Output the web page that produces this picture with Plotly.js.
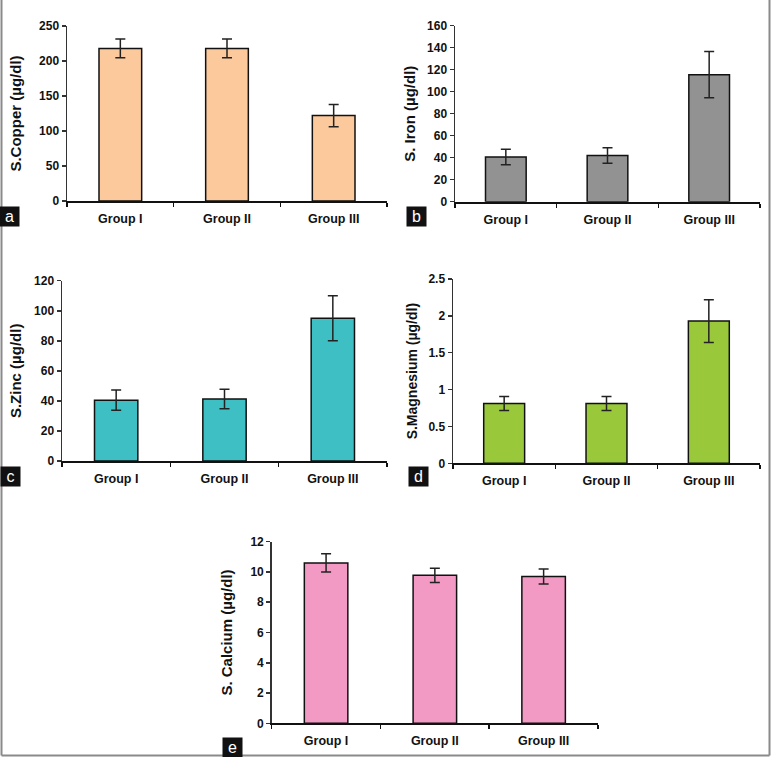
<!DOCTYPE html>
<html>
<head>
<meta charset="utf-8">
<script src="https://cdn.plot.ly/plotly-3.0.1.min.js"></script>
<style>html,body{margin:0;padding:0;background:#fff;}#chart{width:771px;height:757px;}</style>
</head>
<body>
<div id="chart"></div>
<script>
// ---- data ----
const groups = ["Group I", "Group II", "Group III"];

const copperValues = [218, 218, 122];
const copperErrors = [13.5, 13.5, 16];

const ironValues = [40.6, 42, 115.5];
const ironErrors = [7, 7, 21];

const zincValues = [40.5, 41.3, 95];
const zincErrors = [6.8, 6.5, 15];

const magnesiumValues = [0.81, 0.81, 1.93];
const magnesiumErrors = [0.095, 0.095, 0.29];

const calciumValues = [10.6, 9.78, 9.7];
const calciumErrors = [0.6, 0.47, 0.5];

const titles = ["S.Copper (µg/dl)", "S. Iron (µg/dl)", "S.Zinc (µg/dl)", "S.Magnesium (µg/dl)", "S. Calcium (µg/dl)"];
const panelLetters = ["a", "b", "c", "d", "e"];
const yRanges = [[0, 250], [0, 160], [0, 120], [0, 2.5], [0, 12]];
const yDtick = [50, 20, 20, 0.5, 2];
// ---- styling ----
const colors = ["#FBC99B", "#929292", "#3EBFC4", "#99C93A", "#F29AC3"];
const W = 771, H = 757;
// pixel boxes [x0, x1, yTop, yBottom]
const boxes = [[67, 387, 26, 201], [455, 760, 25.7, 201.7], [62, 387, 280.7, 461], [453, 760, 279, 463.3], [271.7, 598, 541.7, 723.3]];
const standoffs = [14, 8, 9, 7, 14];
const titleSizes = [15, 15, 15, 14, 15];
const letterPos = [[9, 216], [416, 216], [10, 476], [419, 476], [232, 747]];

const series = [
  [copperValues, copperErrors],
  [ironValues, ironErrors],
  [zincValues, zincErrors],
  [magnesiumValues, magnesiumErrors],
  [calciumValues, calciumErrors]
];

const font = {family: "Liberation Sans, Arial, sans-serif", color: "#111"};
const traces = [];
const layout = {
  width: W, height: H,
  margin: {l: 0, r: 0, t: 0, b: 0},
  paper_bgcolor: "#fff", plot_bgcolor: "#fff",
  showlegend: false,
  bargap: 0.6,
  font: font,
  annotations: [],
  shapes: [
    {type: "line", xref: "paper", yref: "paper", x0: 1.5/W, x1: 1.5/W, y0: 1.5/H, y1: 1, line: {color: "#8a8a8a", width: 2}},
    {type: "line", xref: "paper", yref: "paper", x0: 1 - 1.5/W, x1: 1 - 1.5/W, y0: 1.5/H, y1: 1, line: {color: "#8a8a8a", width: 2}},
    {type: "line", xref: "paper", yref: "paper", x0: 1.5/W, x1: 1 - 1.5/W, y0: 1.5/H, y1: 1.5/H, line: {color: "#8a8a8a", width: 2}}
  ]
};

series.forEach((s, i) => {
  const n = i === 0 ? "" : String(i + 1);
  traces.push({
    type: "bar",
    x: groups,
    y: s[0],
    xaxis: "x" + n,
    yaxis: "y" + n,
    marker: {color: colors[i], line: {color: "#111", width: 1.5}},
    error_y: {type: "data", array: s[1], visible: true, color: "#222", thickness: 1.5, width: 5},
    hoverinfo: "x+y"
  });
  const b = boxes[i];
  layout["xaxis" + n] = {
    domain: [b[0] / W, b[1] / W],
    anchor: "y" + n,
    type: "category",
    range: [-0.5, 2.5],
    showline: true, linecolor: "#111", linewidth: 2,
    ticks: "outside", tickson: "boundaries", ticklen: 4, tickcolor: "#111", tickwidth: 1.5,
    ticklabelstandoff: 5,
    tickfont: {family: font.family, size: 12.5, color: "#111", weight: "bold"},
    showgrid: false, zeroline: false, fixedrange: true
  };
  layout["yaxis" + n] = {
    domain: [1 - b[3] / H, 1 - b[2] / H],
    anchor: "x" + n,
    range: yRanges[i],
    dtick: yDtick[i], tick0: 0,
    showline: true, linecolor: "#333", linewidth: 1.5,
    ticks: "outside", ticklen: 4, tickcolor: "#333", tickwidth: 1.5,
    tickfont: {family: font.family, size: 12, color: "#111", weight: "bold"},
    showgrid: false, zeroline: false, fixedrange: true,
    title: {text: titles[i], standoff: standoffs[i], font: {family: font.family, size: titleSizes[i], color: "#111", weight: "bold"}}
  };
  layout.annotations.push({
    text: panelLetters[i], xref: "paper", yref: "paper",
    x: letterPos[i][0] / W, y: 1 - letterPos[i][1] / H,
    xanchor: "center", yanchor: "middle", showarrow: false,
    bgcolor: "#111", font: {family: font.family, size: 16, color: "#fff"},
    borderpad: 2, width: 15, height: 15
  });
});

Plotly.newPlot("chart", traces, layout, {displayModeBar: false, staticPlot: true});
</script>
</body>
</html>
